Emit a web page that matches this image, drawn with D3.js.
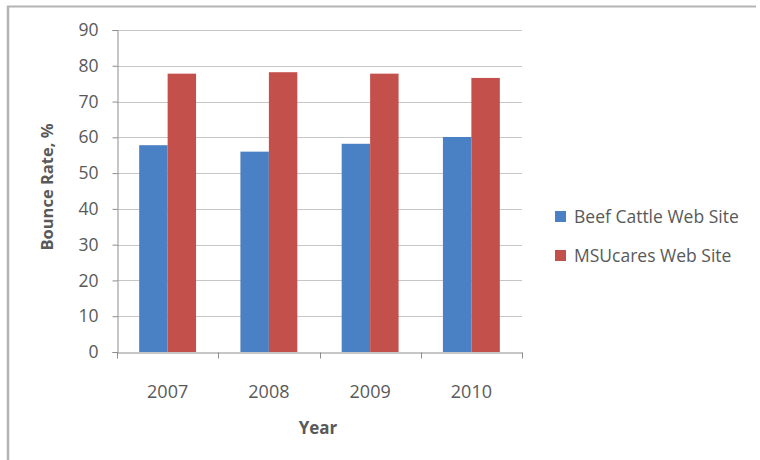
<!DOCTYPE html>
<html>
<head>
<meta charset="utf-8">
<script src="https://cdn.jsdelivr.net/npm/d3@7"></script>
<style>
  html, body { margin: 0; padding: 0; background: #fff; }
  svg { display: block; }
  text { font-family: "Open Sans", "Noto Sans", sans-serif; fill: #595959; }
</style>
</head>
<body>
<svg id="chart" width="760" height="460"></svg>
<script>
const years = ["2007", "2008", "2009", "2010"];
const beefCattle = [57.8, 56.0, 58.2, 60.1];
const msuCares = [77.8, 78.2, 77.8, 76.6];
const seriesNames = ["Beef Cattle Web Site", "MSUcares Web Site"];
const seriesColors = ["#4a80c4", "#c4504b"];
const yTickValues = [0, 10, 20, 30, 40, 50, 60, 70, 80, 90];
const yTitle = "Bounce Rate, %";
const xTitle = "Year";

const svg = d3.select("#chart");

// frame (left and top border)
svg.append("line").attr("x1", 8).attr("x2", 8).attr("y1", 6).attr("y2", 460)
  .attr("stroke", "#b4b4b4").attr("stroke-width", 2.5);
svg.append("line").attr("x1", 7).attr("x2", 756).attr("y1", 6.5).attr("y2", 6.5)
  .attr("stroke", "#b4b4b4").attr("stroke-width", 2);

const plot = { left: 117, right: 522, top: 30, bottom: 352 };

const x0 = d3.scaleBand().domain(years).range([plot.left, plot.right])
  .paddingInner(0.438).paddingOuter(0.219);
const x1 = d3.scaleBand().domain(seriesNames).range([0, x0.bandwidth()]);
const y = d3.scaleLinear().domain([0, 90]).range([plot.bottom, plot.top]);

// gridlines
svg.append("g").selectAll("line").data(yTickValues.filter(d => d > 0)).join("line")
  .attr("x1", plot.left).attr("x2", plot.right)
  .attr("y1", d => Math.round(y(d)) + 0.5).attr("y2", d => Math.round(y(d)) + 0.5)
  .attr("stroke", "#c6c6c6").attr("stroke-width", 1);

// bars
const rows = years.map((yr, i) => ({ year: yr, values: [beefCattle[i], msuCares[i]] }));
const groups = svg.append("g").selectAll("g").data(rows).join("g")
  .attr("transform", d => `translate(${x0(d.year)},0)`);
groups.selectAll("rect").data(d => d.values.map((v, j) => ({ name: seriesNames[j], value: v, color: seriesColors[j] })))
  .join("rect")
  .attr("x", d => x1(d.name))
  .attr("width", x1.bandwidth())
  .attr("y", d => y(d.value))
  .attr("height", d => y(0) - y(d.value))
  .attr("fill", d => d.color);

// y axis
const yAxis = d3.axisLeft(y).tickValues(yTickValues).tickSize(5).tickPadding(14);
const gy = svg.append("g").attr("transform", `translate(${plot.left + 0.5},0)`).call(yAxis);
gy.select(".domain").attr("stroke", "#8c8c8c");
gy.selectAll(".tick line").attr("stroke", "#8c8c8c");
gy.selectAll(".tick text").attr("font-size", 17.5).attr("fill", "#595959")
  .attr("font-family", "'Open Sans', sans-serif");

// x axis
const xAxis = d3.axisBottom(x0).tickSize(0).tickPadding(33);
const gx = svg.append("g").attr("transform", `translate(0,${plot.bottom + 0.5})`).call(xAxis);
gx.select(".domain").attr("stroke", "#8c8c8c");
gx.selectAll(".tick text").attr("font-size", 18).attr("fill", "#595959")
  .attr("font-family", "'Open Sans', sans-serif");
// category boundary ticks
const boundaries = years.map(yr => x0(yr) - x0.step() * x0.paddingOuter()).concat([plot.right]);
gx.append("g").selectAll("line").data(boundaries).join("line")
  .attr("x1", d => Math.round(d) + 0.5).attr("x2", d => Math.round(d) + 0.5)
  .attr("y1", 0).attr("y2", 6).attr("stroke", "#8c8c8c");

// axis titles
svg.append("text").text(yTitle)
  .attr("transform", `translate(53,${(plot.top + plot.bottom) / 2 - 4}) rotate(-90)`)
  .attr("text-anchor", "middle").attr("font-size", 16.5).attr("font-weight", "bold")
  .attr("fill", "#404040");
svg.append("text").text(xTitle)
  .attr("x", 318).attr("y", 434)
  .attr("text-anchor", "middle").attr("font-size", 17).attr("font-weight", "bold")
  .attr("fill", "#404040");

// legend
const legend = svg.append("g").selectAll("g").data(seriesNames).join("g")
  .attr("transform", (d, i) => `translate(555,${211 + i * 39})`);
legend.append("rect").attr("width", 11).attr("height", 11)
  .attr("fill", (d, i) => seriesColors[i]);
legend.append("text").text(d => d).attr("x", 19).attr("y", 11.5)
  .attr("font-size", 17.5).attr("fill", "#595959");
</script>
</body>
</html>
